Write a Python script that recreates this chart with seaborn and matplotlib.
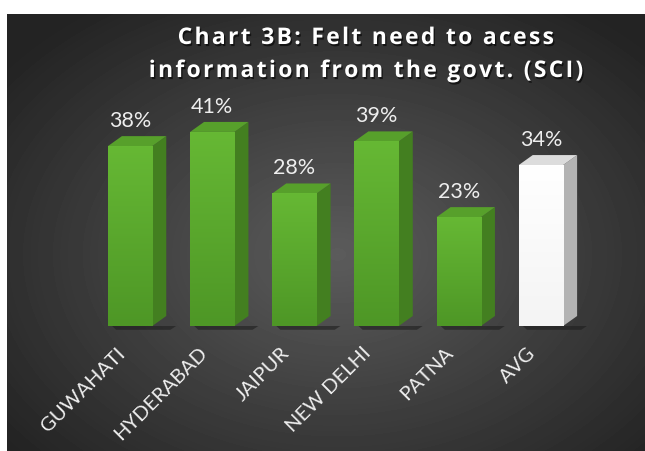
import numpy as np
import pandas as pd
import matplotlib
matplotlib.use('Agg')
import matplotlib.pyplot as plt
import matplotlib.patheffects as pe
import matplotlib.transforms as mtransforms
from matplotlib.patches import Polygon
from matplotlib.colors import LinearSegmentedColormap
import seaborn as sns

# Chart data
cities = ['GUWAHATI', 'HYDERABAD', 'JAIPUR', 'NEW DELHI', 'PATNA', 'AVG']
felt_need = [38, 41, 28, 39, 23, 34]
title_lines = ['Chart 3B: Felt need to acess', 'information from the govt. (SCI)']

# front top, front bottom, side, top
GREEN = ('#66b834', '#4e9726', '#437f20', '#57a02b')
WHITE = ('#ffffff', '#f4f4f4', '#b3b3b3', '#dcdcdc')
faces = [GREEN] * (len(cities) - 1) + [WHITE]

sns.set_theme(style='white')
plt.rcParams['font.family'] = ['Lato', 'DejaVu Sans']

W, H = 645, 452
fig = plt.figure(figsize=(W / 100, H / 100), dpi=100, facecolor='white')

# dark radial background (white strip on top and left as in the screenshot)
bg = fig.add_axes([7 / W, 0, (W - 7) / W, (H - 15) / H])
yy, xx = np.mgrid[0:437, 0:638]
d = np.sqrt(((xx - 330) / 420.0) ** 2 + ((yy - 240) / 300.0) ** 2)
shade = np.clip(0.36 - 0.22 * d, 0.14, 0.4)
bg.imshow(shade, cmap='gray', vmin=0, vmax=1, aspect='auto', interpolation='bilinear')
bg.set_axis_off()

# plotting axes
ax = fig.add_axes([89 / W, 125 / H, 493 / W, 213 / H])
ax.patch.set_alpha(0)
df = pd.DataFrame({'city': cities, 'value': felt_need})
sns.barplot(data=df, x='city', y='value', hue='city',
            palette=[f[1] for f in faces], width=0.54,
            saturation=1, legend=False, ax=ax, zorder=3)
ax.set_xlim(-0.5, 5.5)
ax.set_ylim(0, 45)

# pixel depth of the 3D box converted to data units
px_x = (ax.get_xlim()[1] - ax.get_xlim()[0]) / 493
px_y = (ax.get_ylim()[1] - ax.get_ylim()[0]) / 213
dx, dy = 14 * px_x, 10 * px_y

grad = np.linspace(0, 1, 64).reshape(-1, 1)
for bar, (ftop, fbot, side, top), val in zip(ax.patches, faces, felt_need):
    x0 = bar.get_x()
    x1 = x0 + bar.get_width()
    h = bar.get_height()
    bar.set_edgecolor('none')
    # vertical shading of the front face
    cm = LinearSegmentedColormap.from_list('f', [fbot, ftop])
    im = ax.imshow(grad, cmap=cm, extent=(x0, x1, 0, h), origin='lower',
                   aspect='auto', zorder=3.5, interpolation='bilinear')
    im.set_clip_path(bar)
    # soft shadow on the floor
    ax.add_patch(Polygon([(x0 + 0.05, 0), (x1 + dx + 0.12, 0), (x1 + dx + 0.05, -0.8),
                          (x0 + 0.1, -0.8)], closed=True, color='#1e1e1e', alpha=0.6,
                         zorder=2, clip_on=False, lw=0))
    ax.add_patch(Polygon([(x1, 0), (x1, h), (x1 + dx, h + dy), (x1 + dx, dy)],
                         closed=True, color=side, zorder=3, lw=0))
    ax.add_patch(Polygon([(x0, h), (x1, h), (x1 + dx, h + dy), (x0 + dx, h + dy)],
                         closed=True, color=top, zorder=3, lw=0))
    ax.text(bar.get_x() + bar.get_width() / 2, h + dy + 6 * px_y, f'{val}%',
            ha='center', va='bottom', color='#eeeeee', fontsize=15.5, clip_on=False)

ax.set_xlim(-0.5, 5.5)
ax.set_ylim(0, 45)
ax.set_xlabel('')
ax.set_ylabel('')
ax.set_yticks([])
ax.set_xticks(range(len(cities)))
ax.set_xticklabels(cities, rotation=45, ha='right', va='top', rotation_mode='anchor',
                   color='#eeeeee', fontsize=14.5)
ax.tick_params(axis='x', length=0, pad=14)
shift = mtransforms.ScaledTranslation(-14 / 100, 2 / 100, fig.dpi_scale_trans)
for lab in ax.get_xticklabels():
    lab.set_transform(lab.get_transform() + shift)
for sp in ax.spines.values():
    sp.set_visible(False)

# title with wide letter spacing
shadow = [pe.withSimplePatchShadow(offset=(1, -1.5), shadow_rgbFace='black', alpha=0.6)]
for line, ypix in zip(title_lines, [39, 72]):
    fig.text(365 / W, 1 - ypix / H, '\u200a'.join(line), ha='center', va='center',
             color='white', fontsize=16.5, fontweight='bold',
             family=['Open Sans', 'DejaVu Sans'], path_effects=shadow)

fig.savefig('out.png', dpi=100, facecolor=fig.get_facecolor())
